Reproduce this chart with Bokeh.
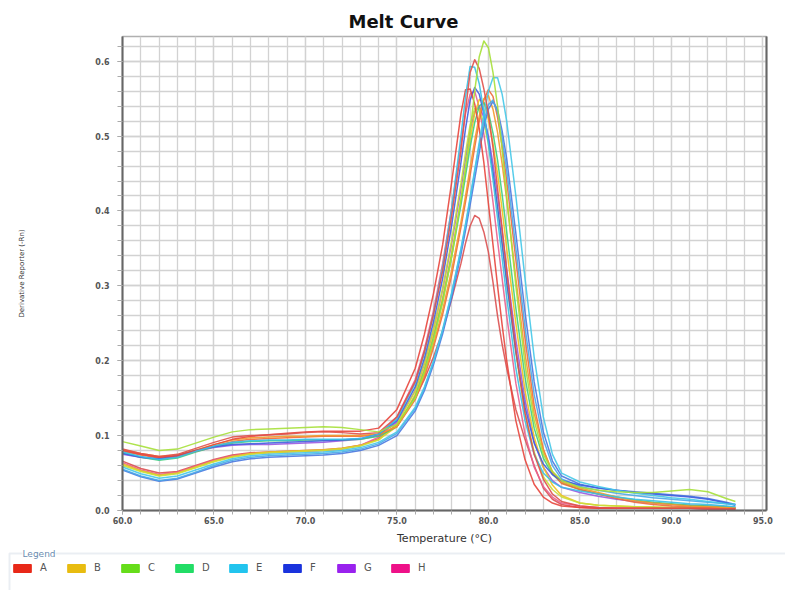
from bokeh.plotting import figure
from bokeh.models import (Range1d, SingleIntervalTicker, FixedTicker, LinearAxis,
                          Legend, LegendItem, PrintfTickFormatter, Label, BoxAnnotation)
from bokeh.layouts import column
from bokeh.embed import file_html
from bokeh.resources import INLINE

# ---------------- data ----------------
temps = [60, 61, 62, 63, 64, 65, 66, 67, 68, 69, 70, 71, 72, 73, 74,
         75, 76, 76.5, 77, 77.5, 78,
         78.5, 78.75, 79, 79.25, 79.5, 79.75, 80, 80.25, 80.5, 80.75, 81,
         81.5, 82, 82.5, 83, 83.5, 84, 85, 86, 87, 88, 89, 90, 91, 92, 93, 93.5]

a1 = [0.082, 0.076, 0.072, 0.075, 0.083, 0.091, 0.098, 0.100, 0.101, 0.102, 0.104, 0.105, 0.104, 0.102, 0.104,
      0.125, 0.172, 0.212, 0.262, 0.320, 0.395,
      0.480, 0.535, 0.585, 0.602, 0.590, 0.563, 0.530, 0.485, 0.430, 0.377, 0.320,
      0.215, 0.130, 0.075, 0.042, 0.022, 0.012, 0.006, 0.004, 0.003, 0.003, 0.003, 0.003, 0.003, 0.003, 0.002, 0.002]
a2 = [0.066, 0.056, 0.050, 0.052, 0.060, 0.068, 0.074, 0.077, 0.078, 0.079, 0.080, 0.081, 0.083, 0.087, 0.096,
      0.115, 0.150, 0.175, 0.205, 0.240, 0.283,
      0.330, 0.357, 0.380, 0.394, 0.390, 0.372, 0.345, 0.305, 0.260, 0.222, 0.190,
      0.135, 0.095, 0.060, 0.030, 0.015, 0.008, 0.004, 0.003, 0.003, 0.003, 0.003, 0.003, 0.003, 0.002, 0.002, 0.002]
a3 = [0.080, 0.075, 0.071, 0.073, 0.080, 0.088, 0.095, 0.099, 0.101, 0.103, 0.105, 0.106, 0.106, 0.106, 0.110,
      0.135, 0.190, 0.235, 0.290, 0.355, 0.440,
      0.530, 0.562, 0.563, 0.543, 0.510, 0.465, 0.410, 0.355, 0.300, 0.248, 0.200,
      0.120, 0.068, 0.035, 0.018, 0.010, 0.006, 0.004, 0.003, 0.003, 0.003, 0.003, 0.003, 0.003, 0.002, 0.002, 0.002]
a4 = [0.079, 0.074, 0.070, 0.072, 0.079, 0.086, 0.092, 0.095, 0.096, 0.097, 0.098, 0.099, 0.099, 0.099, 0.101,
      0.112, 0.148, 0.178, 0.218, 0.262, 0.315,
      0.378, 0.412, 0.448, 0.485, 0.520, 0.548, 0.562, 0.553, 0.525, 0.487, 0.440,
      0.335, 0.230, 0.140, 0.082, 0.050, 0.036, 0.028, 0.022, 0.016, 0.011, 0.008, 0.006, 0.005, 0.004, 0.004, 0.003]
b1 = [0.062, 0.053, 0.047, 0.050, 0.058, 0.066, 0.072, 0.076, 0.078, 0.079, 0.080, 0.081, 0.083, 0.087, 0.095,
      0.112, 0.155, 0.190, 0.235, 0.285, 0.345,
      0.415, 0.455, 0.495, 0.530, 0.549, 0.545, 0.522, 0.490, 0.450, 0.402, 0.350,
      0.250, 0.160, 0.098, 0.058, 0.034, 0.020, 0.010, 0.007, 0.006, 0.005, 0.004, 0.004, 0.003, 0.003, 0.003, 0.003]
b2 = [0.081, 0.076, 0.072, 0.074, 0.081, 0.088, 0.094, 0.097, 0.098, 0.099, 0.099, 0.100, 0.100, 0.100, 0.102,
      0.112, 0.150, 0.182, 0.222, 0.268, 0.322,
      0.385, 0.420, 0.458, 0.494, 0.527, 0.550, 0.554, 0.536, 0.505, 0.463, 0.415,
      0.310, 0.210, 0.130, 0.080, 0.052, 0.038, 0.030, 0.024, 0.018, 0.013, 0.010, 0.008, 0.006, 0.005, 0.004, 0.004]
c1 = [0.092, 0.086, 0.080, 0.082, 0.090, 0.098, 0.105, 0.108, 0.109, 0.110, 0.111, 0.112, 0.111, 0.108, 0.105,
      0.115, 0.150, 0.185, 0.228, 0.278, 0.340,
      0.415, 0.458, 0.505, 0.560, 0.606, 0.627, 0.618, 0.585, 0.540, 0.482, 0.420,
      0.300, 0.195, 0.120, 0.075, 0.052, 0.040, 0.031, 0.027, 0.025, 0.024, 0.024, 0.026, 0.028, 0.025, 0.016, 0.012]
c2 = [0.060, 0.052, 0.046, 0.049, 0.057, 0.065, 0.071, 0.075, 0.077, 0.078, 0.079, 0.080, 0.082, 0.086, 0.094,
      0.115, 0.160, 0.197, 0.243, 0.297, 0.362,
      0.437, 0.478, 0.515, 0.537, 0.535, 0.517, 0.490, 0.450, 0.405, 0.357, 0.305,
      0.210, 0.130, 0.078, 0.045, 0.028, 0.018, 0.010, 0.007, 0.006, 0.005, 0.005, 0.004, 0.004, 0.003, 0.003, 0.003]
d1 = [0.077, 0.071, 0.067, 0.070, 0.078, 0.085, 0.090, 0.092, 0.093, 0.093, 0.094, 0.094, 0.094, 0.095, 0.099,
      0.112, 0.152, 0.186, 0.230, 0.280, 0.340,
      0.408, 0.447, 0.485, 0.518, 0.540, 0.545, 0.532, 0.504, 0.468, 0.422, 0.372,
      0.270, 0.178, 0.110, 0.070, 0.048, 0.037, 0.028, 0.022, 0.018, 0.014, 0.011, 0.009, 0.007, 0.006, 0.005, 0.004]
e1 = [0.078, 0.072, 0.068, 0.071, 0.079, 0.086, 0.091, 0.093, 0.094, 0.094, 0.095, 0.095, 0.095, 0.096, 0.102,
      0.122, 0.170, 0.210, 0.262, 0.325, 0.405,
      0.500, 0.553, 0.593, 0.592, 0.570, 0.533, 0.490, 0.442, 0.390, 0.337, 0.285,
      0.190, 0.120, 0.075, 0.050, 0.038, 0.031, 0.026, 0.022, 0.018, 0.015, 0.013, 0.011, 0.009, 0.008, 0.006, 0.005]
e2 = [0.058, 0.049, 0.043, 0.046, 0.054, 0.062, 0.069, 0.073, 0.075, 0.076, 0.077, 0.078, 0.080, 0.084, 0.091,
      0.105, 0.138, 0.165, 0.200, 0.242, 0.292,
      0.350, 0.383, 0.418, 0.455, 0.492, 0.528, 0.560, 0.578, 0.578, 0.556, 0.520,
      0.420, 0.310, 0.205, 0.125, 0.075, 0.050, 0.038, 0.032, 0.027, 0.023, 0.020, 0.017, 0.015, 0.012, 0.009, 0.008]
e3 = [0.055, 0.046, 0.040, 0.043, 0.051, 0.060, 0.067, 0.071, 0.073, 0.074, 0.075, 0.076, 0.078, 0.082, 0.089,
      0.103, 0.136, 0.163, 0.198, 0.240, 0.290,
      0.348, 0.380, 0.415, 0.452, 0.488, 0.520, 0.542, 0.548, 0.532, 0.498, 0.455,
      0.350, 0.245, 0.155, 0.095, 0.060, 0.042, 0.032, 0.027, 0.023, 0.020, 0.017, 0.015, 0.013, 0.011, 0.009, 0.008]
f1 = [0.076, 0.071, 0.069, 0.073, 0.080, 0.085, 0.088, 0.089, 0.090, 0.091, 0.092, 0.093, 0.094, 0.096, 0.102,
      0.120, 0.165, 0.203, 0.252, 0.310, 0.382,
      0.465, 0.510, 0.548, 0.565, 0.556, 0.530, 0.495, 0.452, 0.405, 0.356, 0.305,
      0.212, 0.138, 0.090, 0.062, 0.048, 0.040, 0.034, 0.030, 0.027, 0.024, 0.022, 0.020, 0.018, 0.015, 0.010, 0.007]
f2 = [0.054, 0.045, 0.039, 0.042, 0.050, 0.058, 0.065, 0.069, 0.071, 0.072, 0.073, 0.074, 0.076, 0.080, 0.087,
      0.100, 0.133, 0.160, 0.195, 0.236, 0.285,
      0.342, 0.374, 0.408, 0.443, 0.478, 0.512, 0.536, 0.546, 0.535, 0.507, 0.470,
      0.370, 0.265, 0.172, 0.105, 0.066, 0.046, 0.035, 0.030, 0.027, 0.025, 0.023, 0.021, 0.019, 0.016, 0.011, 0.008]
g1 = [0.075, 0.071, 0.068, 0.072, 0.079, 0.084, 0.087, 0.088, 0.088, 0.089, 0.090, 0.091, 0.093, 0.095, 0.100,
      0.118, 0.160, 0.196, 0.242, 0.295, 0.358,
      0.430, 0.470, 0.508, 0.533, 0.540, 0.525, 0.500, 0.463, 0.420, 0.372, 0.322,
      0.228, 0.148, 0.092, 0.058, 0.040, 0.031, 0.024, 0.019, 0.015, 0.012, 0.010, 0.008, 0.007, 0.006, 0.005, 0.004]
h1 = [0.064, 0.054, 0.048, 0.051, 0.059, 0.067, 0.073, 0.076, 0.077, 0.078, 0.079, 0.080, 0.082, 0.087, 0.098,
      0.125, 0.175, 0.215, 0.267, 0.330, 0.405,
      0.490, 0.530, 0.556, 0.560, 0.538, 0.503, 0.460, 0.412, 0.360, 0.310, 0.260,
      0.170, 0.102, 0.058, 0.032, 0.018, 0.010, 0.006, 0.004, 0.003, 0.003, 0.003, 0.003, 0.003, 0.002, 0.002, 0.002]

curve_values = [a2, g1, h1, b1, c2, d1, a4, b2, f2, e3, f1, a3, e1, e2, a1, c1]
curve_colors = ["#dc5050", "#9a5ae0", "#e8608e", "#f0c21c", "#c8de3a", "#3fcf7a",
                "#ee6a3a", "#f39a2b", "#4a78e0", "#4aa8e8", "#3f5fe0", "#e8453c",
                "#39c0e6", "#45c8e8", "#e0504a", "#a6e03a"]

legend_names = ["A", "B", "C", "D", "E", "F", "G", "H"]
legend_colors = ["#e82818", "#e8bc10", "#66dd1a", "#22dd66", "#22c4ee", "#1a33dd", "#9922ee", "#ee1188"]
legend_title = "Legend"

W = 785

# ---------------- main chart ----------------
p = figure(width=W, height=547, x_range=Range1d(60, 95.2), y_range=Range1d(0, 0.633),
           toolbar_location=None, output_backend="svg", title="Melt Curve",
           min_border_left=122, min_border_right=W - 766, min_border_top=36, min_border_bottom=35)
p.frame_align = False
p.background_fill_color = "white"
p.border_fill_color = "white"
p.outline_line_color = "#b0b0b0"
p.outline_line_width = 1.5

p.title.align = "left"
p.title.offset = 226
p.title.text_font = "DejaVu Sans"
p.title.text_font_size = "18px"
p.title.text_font_style = "bold"
p.title.text_color = "#111111"

xt = SingleIntervalTicker(interval=5, num_minor_ticks=5)
yt = SingleIntervalTicker(interval=0.1, num_minor_ticks=5)
p.xaxis.ticker = xt
p.yaxis.ticker = yt
p.xgrid.ticker = xt
p.ygrid.ticker = yt
p.xaxis.formatter = PrintfTickFormatter(format="%.1f")
p.yaxis.formatter = PrintfTickFormatter(format="%.1f")

for g in (p.xgrid, p.ygrid):
    g.grid_line_color = "#d2d2d2"
    g.grid_line_width = 1.3
    g.minor_grid_line_color = "#d2d2d2"
    g.minor_grid_line_width = 1.3

for ax in (p.xaxis, p.yaxis):
    ax.axis_line_color = "#666666"
    ax.axis_line_width = 2
    ax.major_tick_line_color = "#aaaaaa"
    ax.minor_tick_line_color = "#aaaaaa"
    ax.major_tick_in = 0
    ax.minor_tick_in = 0
    ax.major_label_text_font = "DejaVu Sans"
    ax.major_label_text_font_size = "8px"
    ax.major_label_text_font_style = "bold"
    ax.major_label_text_color = "#555555"
    ax.axis_label_text_font = "DejaVu Sans"
    ax.axis_label_text_font_style = "normal"
    ax.axis_label_text_color = "#333333"

p.xaxis.major_tick_out = 4
p.xaxis.minor_tick_out = 4
p.xaxis.major_label_standoff = 2
p.xaxis.axis_label = "Temperature (°C)"
p.xaxis.axis_label_text_font_size = "11px"
p.xaxis.axis_label_standoff = 5

p.yaxis.major_tick_out = 5
p.yaxis.minor_tick_out = 5
p.yaxis.major_label_standoff = 8
p.yaxis.axis_label = "Derivative Reporter (-Rn)"
p.yaxis.axis_label_text_font_size = "7px"
p.yaxis.axis_label_standoff = 66

right_ax = LinearAxis(ticker=FixedTicker(ticks=[]), axis_line_color="#666666", axis_line_width=2,
                      major_label_text_font_size="0px")
p.add_layout(right_ax, "right")

for vals, col in zip(curve_values, curve_colors):
    p.line(temps, vals, line_color=col, line_width=1.5, line_alpha=0.9, line_join="round")

# ---------------- legend panel ----------------
LH = 43
p2 = figure(width=W, height=LH, x_range=Range1d(0, W), y_range=Range1d(0, LH),
            toolbar_location=None, output_backend="svg",
            min_border_left=0, min_border_right=0, min_border_top=0, min_border_bottom=0)
p2.frame_align = False
p2.outline_line_color = None
p2.grid.visible = False
p2.axis.visible = False

frame_box = BoxAnnotation(left=9, right=W + 20, bottom=-20, top=LH - 6,
                          fill_alpha=0, line_color="#b8c6d6", line_width=2)
p2.add_layout(frame_box)

items = []
for name, col in zip(legend_names, legend_colors):
    r = p2.rect(x=[-100], y=[-100], width=1, height=1, fill_color=col, line_color=col)
    items.append(LegendItem(label=name, renderers=[r]))

leg = Legend(items=items, orientation="horizontal", location=(11, 17),
             glyph_width=22, glyph_height=10, label_standoff=7, label_width=17, spacing=8,
             padding=0, margin=0, border_line_color=None, background_fill_alpha=0,
             label_text_font="DejaVu Sans", label_text_font_size="10px", label_text_color="#555555")
p2.add_layout(leg)

title_lbl = Label(x=22, y=LH - 6, text=legend_title,
                  text_font="DejaVu Sans", text_font_size="9px", text_color="#6a8cb0",
                  text_baseline="middle", background_fill_color="white",
                  background_fill_alpha=1.0)
p2.add_layout(title_lbl)

layout = column(p, p2, spacing=0)
open("out.html", "w").write(file_html(layout, INLINE))
